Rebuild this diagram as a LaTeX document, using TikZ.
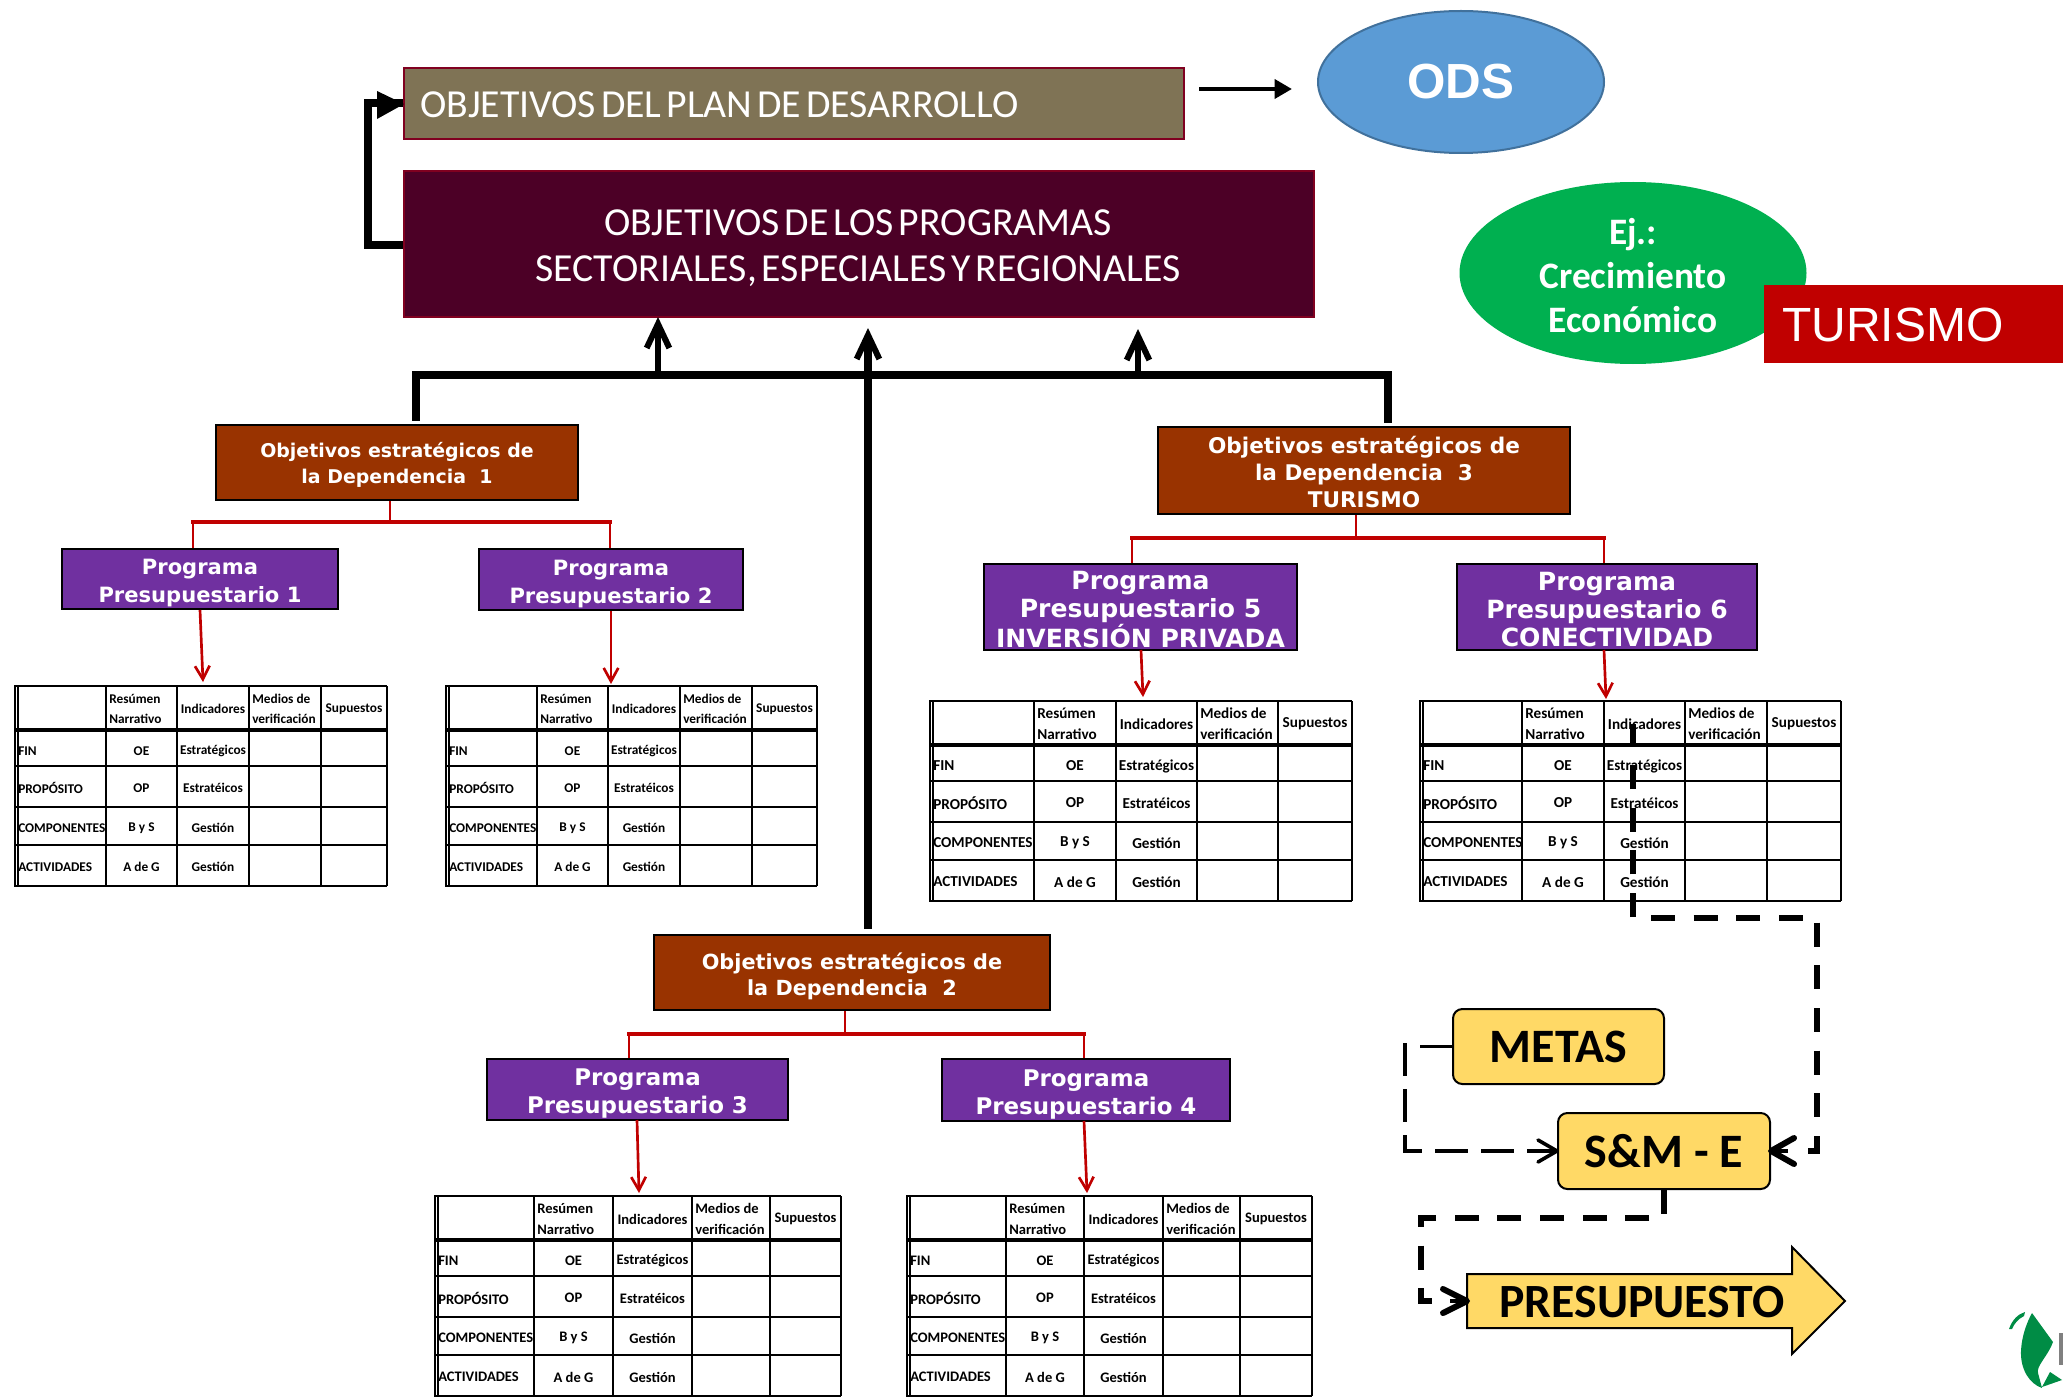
\documentclass[tikz,border=0pt]{standalone}
\usepackage{fontspec}
\setmainfont{Carlito}
\newfontfamily\tightfont[WordSpace=0.55]{Carlito}
\newfontfamily\verdfont{DejaVu Sans}
\newfontfamily\arialfont{Liberation Sans}
\usetikzlibrary{arrows.meta,shapes.geometric}

\definecolor{planfill}{RGB}{127,115,85}
\definecolor{progfill}{RGB}{76,0,38}
\definecolor{boxred}{RGB}{128,0,32}
\definecolor{depfill}{RGB}{153,51,0}
\definecolor{purplefill}{RGB}{112,48,160}
\definecolor{odsfill}{RGB}{91,155,213}
\definecolor{odsline}{RGB}{65,113,156}
\definecolor{greenfill}{RGB}{0,176,80}
\definecolor{redfill}{RGB}{192,0,0}
\definecolor{yellowfill}{RGB}{255,217,102}
\definecolor{leaf}{RGB}{0,140,69}

\tikzset{
  topbox/.style={draw=boxred, line width=1.5, text=white, inner sep=0pt, align=center},
  depbox/.style={draw=black, line width=1.5, fill=depfill, text=white, inner sep=0pt, align=center,
    font=\verdfont\bfseries\fontsize{#1}{20}\selectfont},
  purplebox/.style={draw=black, line width=1.5, fill=purplefill, text=white, inner sep=0pt, align=center,
    font=\verdfont\bfseries\fontsize{#1}{21}\selectfont},
  yellowbox/.style={draw=black, line width=1.5, fill=yellowfill, rounded corners=7, inner sep=0pt,
    font=\bfseries\fontsize{36}{40}\selectfont},
  busline/.style={line width=6},
  uparrow/.style={line width=4, -{Straight Barb[length=18pt,width=17pt,line width=4.5pt]}},
  treeline/.style={draw=redfill, line width=2.2},
  redarrow/.style={draw=redfill, line width=2, -{Straight Barb[length=10pt,width=11pt,line width=2pt]}},
  dashthick/.style={line width=4.2, dash pattern=on 18pt off 14pt},
  dashthin/.style={line width=2.7, dash pattern=on 25pt off 9.5pt},
  headthick/.style={line width=4.5, line cap=round, line join=round},
  headthin/.style={line width=2.7, line cap=round, line join=round},
}
% taller first line, moves the lines of a box down
\newcommand{\firstup}[1]{\rule{0pt}{#1pt}}

% table of indicators: name, left, top, five column offsets, font size
\newcommand{\mirtable}[9]{
  \begin{scope}[shift={(#2,#3)}, every node/.style={inner sep=0pt, font=\bfseries\fontsize{#9}{15.5}\selectfont}]
    \foreach \yy in {0,80,121,159,200} \draw[line width=1.7] (-1,\yy) -- (#8,\yy);
    \draw[line width=2.4] (-1,44) -- (#8,44);
    \foreach \xx in {#4,#5,#6,#7,#8} \draw[line width=1.5] (\xx,0) -- (\xx,200);
    \draw[line width=1.5] (0,0) -- (0,200);
    \draw[line width=1.2] (3,0) -- (3,200);
    \node[align=left, anchor=west] (#1-h1) at (#4+3,23) {Resúmen\\Narrativo};
    \node (#1-h2) at ({(#5+#6)/2},23) {Indicadores};
    \node[align=left, anchor=west] (#1-h3) at (#6+3,23) {Medios de\\verificación};
    \node (#1-h4) at ({(#7+#8)/2},23) {Supuestos};
    \foreach \lab/\res/\ind/\yy [count=\r] in {FIN/OE/Estratégicos/65, PROPÓSITO/OP/Estratéicos/102, COMPONENTES/B y S/Gestión/142, ACTIVIDADES/A de G/Gestión/181}{
      \node[anchor=west] (#1-a\r) at (3,\yy) {\lab};
      \node (#1-b\r) at ({(#4+#5)/2},\yy) {\res};
      \node (#1-c\r) at ({(#5+#6)/2},\yy) {\ind};
    }
  \end{scope}
}

\begin{document}
\begin{tikzpicture}[x=0.75pt,y=0.75pt,yscale=-1,xscale=1]
    \useasboundingbox (0,0) rectangle (2063,1398);

    % Top boxes
    \node[topbox, fill=planfill, minimum width=780*0.75pt, minimum height=71*0.75pt] (plan) at (794,103.5) {};
    \node[anchor=west, text=white, inner sep=0pt, font=\tightfont\fontsize{29.8}{34}\selectfont] (plantext) at (420,105) {OBJETIVOS DEL PLAN DE DESARROLLO};
    \node[topbox, fill=progfill, minimum width=910*0.75pt, minimum height=146*0.75pt] (secto) at (859,244) {};
    \node[align=center, text=white, inner sep=0pt, font=\tightfont\fontsize{29.8}{34.5}\selectfont] (sectotext) at (858,248) {OBJETIVOS DE LOS PROGRAMAS\\SECTORIALES, ESPECIALES Y REGIONALES};
    \node[ellipse, draw=odsline, line width=1.5, fill=odsfill, text=white, minimum width=286*0.75pt, minimum height=142*0.75pt, inner sep=0pt, font=\arialfont\bfseries\fontsize{37}{40}\selectfont] (ods) at (1461,82) {\raisebox{-3pt}{ODS}};
    \node[ellipse, fill=greenfill, text=white, minimum width=347*0.75pt, minimum height=182*0.75pt, inner sep=0pt, align=center, font=\bfseries\fontsize{28}{33}\selectfont] (ej) at (1633,273) {\firstup{23}Ej.:\\Crecimiento\\Económico};
    \node[fill=redfill, text=white, minimum width=299*0.75pt, minimum height=78*0.75pt, inner sep=0pt] (turbox) at (1913.5,324) {};
    \node[anchor=west, text=white, inner sep=0pt, font=\arialfont\fontsize{36}{40}\selectfont] (turtext) at (1782,325) {TURISMO};

    % Dependencies
    \node[depbox=14.2, minimum width=362*0.75pt, minimum height=75*0.75pt] (dep1) at (397,462.5) {\firstup{15}Objetivos estratégicos de\\la Dependencia~~1};
    \node[depbox=15.6, minimum width=396*0.75pt, minimum height=75*0.75pt] (dep2) at (852,972.5) {\firstup{18}Objetivos estratégicos de\\la Dependencia~~2};
    \node[depbox=16.2, minimum width=412*0.75pt, minimum height=87*0.75pt] (dep3) at (1364,470.5) {\firstup{15}Objetivos estratégicos de\\la Dependencia~~3\\TURISMO};

    % Programs
    \node[purplebox=15.8, minimum width=276*0.75pt, minimum height=60*0.75pt] (prog1) at (200,579) {\firstup{18}Programa\\Presupuestario 1};
    \node[purplebox=15.8, minimum width=264*0.75pt, minimum height=61*0.75pt] (prog2) at (611,579.5) {\firstup{18}Programa\\Presupuestario 2};
    \node[purplebox=17.2, minimum width=301*0.75pt, minimum height=61*0.75pt] (prog3) at (637.5,1089.5) {\firstup{19}Programa\\Presupuestario 3};
    \node[purplebox=17.2, minimum width=288*0.75pt, minimum height=62*0.75pt] (prog4) at (1086,1090) {\firstup{19}Programa\\Presupuestario 4};
    \node[purplebox=18.8, minimum width=313*0.75pt, minimum height=86*0.75pt] (prog5) at (1140.5,607) {\firstup{18}Programa\\Presupuestario 5\\INVERSIÓN PRIVADA};
    \node[purplebox=18.8, minimum width=300*0.75pt, minimum height=86*0.75pt] (prog6) at (1607,607) {\firstup{18}Programa\\Presupuestario 6\\CONECTIVIDAD};

    % Tables
    \mirtable{tabA}{15}{686}{91}{162}{234}{306}{372}{10}
    \mirtable{tabB}{446}{686}{91}{162}{234}{306}{371}{10}
    \mirtable{tabC}{435}{1196}{99}{178}{257}{335}{406}{10.9}
    \mirtable{tabD}{907}{1196}{99}{177}{256}{333}{405}{10.9}
    \mirtable{tabE}{930}{701}{104}{186}{267}{348}{422}{11.4}
    \mirtable{tabF}{1420}{701}{102}{184}{265}{347}{421}{11.4}

    % Yellow boxes
    \node[yellowbox, minimum width=211*0.75pt, minimum height=75*0.75pt] (metas) at (1558.5,1046.5) {METAS};
    \node[yellowbox, minimum width=212*0.75pt, minimum height=76*0.75pt] (sme) at (1664,1151) {S\&M - E};
    \draw[line width=1.5, fill=yellowfill] (1467,1274) -- (1792,1274) -- (1792,1247) -- (1845,1301) -- (1792,1354) -- (1792,1328) -- (1467,1328) -- cycle ;
    \node[inner sep=0pt, font=\bfseries\fontsize{35.8}{40}\selectfont] (presu) at (1642,1302) {PRESUPUESTO};
    \coordinate (presutail) at (1467,1301);

    % Connection
    \coordinate (elbow) at (368,245);
    \draw[busline] (secto.west |- elbow) -- (elbow) -- (elbow |- plan.west) -- (plan.west) ;
    \fill[black] (377,91) -- (404,104) -- (377,119) -- cycle ;
    \coordinate (odsend) at (1292,89);
    \coordinate (odsstart) at (1199,89);
    \draw[line width=3.4, -{Triangle[length=13pt,width=14pt]}] (odsstart) -- (odsend) ;

    \coordinate (busL) at (416,375);
    \coordinate (busR) at (1388,375);
    \coordinate (upA) at (658,377);
    \coordinate (upB) at (868,929);
    \coordinate (upC) at (1138,377);
    \draw[busline, line cap=rect] (busL) -- (busR) ;
    \draw[busline] (busL) -- (busL |- 0,421) ;
    \draw[busline] (busR) -- (busR |- 0,423) ;
    \draw[uparrow] (upA) -- (658,317) ;
    \draw[uparrow, line width=5.5] (upB) -- (868,328) ;
    \draw[uparrow] (upC) -- (1138,329) ;

    % Tree of each dependency
    \coordinate (ja) at (390,522);
    \coordinate (jaL) at (193,522);
    \coordinate (jaR) at (610,522);
    \draw[treeline] (ja |- dep1.south) -- (ja) ;
    \draw[treeline] (jaL |- prog1.north) -- (jaL) ;
    \draw[treeline] (jaR |- prog2.north) -- (jaR) ;
    \draw[treeline, line width=2.8, line cap=rect] (jaL) -- (jaR) ;
    \coordinate (jb) at (845,1034);
    \coordinate (jbL) at (629,1034);
    \coordinate (jbR) at (1084,1034);
    \draw[treeline] (jb |- dep2.south) -- (jb) ;
    \draw[treeline] (jbL |- prog3.north) -- (jbL) ;
    \draw[treeline] (jbR |- prog4.north) -- (jbR) ;
    \draw[treeline, line width=2.8, line cap=rect] (jbL) -- (jbR) ;
    \coordinate (jc) at (1356,538);
    \coordinate (jcL) at (1132,538);
    \coordinate (jcR) at (1604,538);
    \draw[treeline] (jc |- dep3.south) -- (jc) ;
    \draw[treeline] (jcL |- prog5.north) -- (jcL) ;
    \draw[treeline] (jcR |- prog6.north) -- (jcR) ;
    \draw[treeline, line width=2.8, line cap=rect] (jcL) -- (jcR) ;

    % Red arrows
    \draw[redarrow] (prog1.south) -- (203,682) ;
    \draw[redarrow] (prog2.south) -- (611,684) ;
    \draw[redarrow] (637,1120) -- (639,1193) ;
    \draw[redarrow] (1084,1121) -- (1087,1193) ;
    \draw[redarrow] (1141,650) -- (1143,697) ;
    \draw[redarrow] (1604,650) -- (1606,699) ;

    % Dashed connections
    \coordinate (dashA) at (1633,917);
    \coordinate (dashAa) at (1633,724);
    \coordinate (dashAc) at (1651,918);
    \coordinate (dashAd) at (1817,918);
    \coordinate (dashAe) at (1817,1151);
    \draw[dashthick] (dashA) -- (dashAa) ;
    \draw[dashthick] (dashAc) -- (dashAd) -- (dashAe) -- (1806,1151) ;
    \draw[headthick] (1794,1138) -- (sme.east) -- (1794,1164) ;
    \draw[line width=3.5] (1788,1151) -- (sme.east) ;
    \coordinate (dashB) at (1405,1043);
    \coordinate (dashBc) at (1405,1151);
    \draw[line width=2.7] (metas.west) -- (1420,1046.5) ;
    \draw[dashthin] (dashB) -- (dashBc) -- (sme.west) ;
    \draw[headthin] (1538,1140) -- (sme.west) -- (1538,1162) ;
    \coordinate (dashC) at (1421,1218);
    \coordinate (dashCc) at (1421,1301);
    \draw[dashthick] (sme.south) -- (sme.south |- dashC) -- (dashC) -- (dashCc) -- (1433,1301) ;
    \draw[headthick] (1443,1289) -- (presutail) -- (1443,1313) ;
    \draw[line width=3.5] (1450,1301) -- (presutail) ;

    % Logo in the corner
    \fill[leaf] (2032,1313) -- (2053,1342) .. controls (2048,1356) and (2036,1366) .. (2038,1373) -- (2042,1388) .. controls (2030,1384) and (2020,1370) .. (2021,1350) .. controls (2022,1335) and (2027,1322) .. (2032,1313) -- cycle ;
    \fill[leaf] (2042,1387) -- (2050,1372) -- (2062,1380) -- cycle ;
    \fill[leaf] (2009,1329) .. controls (2012,1320) and (2018,1314) .. (2025,1312) -- (2024,1316) .. controls (2018,1319) and (2014,1324) .. (2012,1329) -- cycle ;
    \fill[gray] (2059,1333) rectangle (2063,1365) ;

\end{tikzpicture}
\end{document}
